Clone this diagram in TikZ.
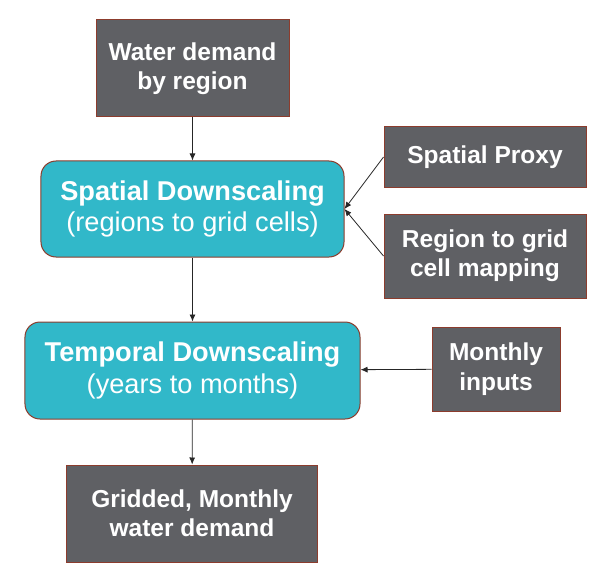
\documentclass[tikz,border=0pt]{standalone}
\usepackage{fontspec}
\setmainfont{Liberation Sans}
\usetikzlibrary{positioning, arrows.meta}
\usepackage{xcolor}

\definecolor{inputgray}{RGB}{95,96,100}
\definecolor{edgebrown}{RGB}{140,60,45}
\definecolor{stepteal}{RGB}{49,184,201}

\begin{document}
\begin{tikzpicture}[
                    x=1bp, y=-1bp,
                    % Uniform line width for the connectors
                    every path/.style={line width=0.8bp},
                    % Grey input/output boxes
                    databox/.style={draw=edgebrown, fill=inputgray, text=white,
                                    line width=1bp, inner sep=0pt, align=center,
                                    font=\fontsize{24.6}{29.5}\selectfont\bfseries},
                    % Teal processing steps
                    stepbox/.style={draw=edgebrown, fill=stepteal, text=white,
                                    line width=1bp, rounded corners=15bp, inner sep=0pt, align=center,
                                    font=\fontsize{27.3}{31.5}\selectfont},
                    flow/.style={draw=black!85, -{Latex[length=7bp,width=6bp]}}
                  ]
                  % --- Fix the page size ---
                  \useasboundingbox (0,0) rectangle (604,577);

                  % --- Boxes ---
                  \node[databox, minimum width=193bp, minimum height=97bp] (demand) at (192.5,68.5) {Water demand\\by region};
                  \node[stepbox, minimum width=303bp, minimum height=96bp] (spatial) at (192.5,209) {\textbf{Spatial Downscaling}\\(regions to grid cells)};
                  \node[databox, minimum width=202bp, minimum height=60bp] (proxy) at (485,157) {Spatial Proxy};
                  \node[databox, minimum width=202bp, minimum height=84bp] (mapping) at (485,256) {Region to grid\\cell mapping};
                  \node[stepbox, minimum width=335bp, minimum height=97bp] (temporal) at (192.5,370.5) {\textbf{Temporal Downscaling}\\(years to months)};
                  \node[databox, minimum width=128bp, minimum height=84bp] (monthly) at (496,369) {Monthly\\inputs};
                  \node[databox, minimum width=250bp, minimum height=97bp] (gridded) at (192,513.5) {Gridded, Monthly\\water demand};

                  % --- Connectors ---
                  \draw[flow] (demand) -- (spatial);
                  \draw[flow] (proxy.west) -- (spatial.east);
                  \draw[flow] (mapping.west) -- (spatial.east);
                  \draw[flow] (spatial) -- (temporal);
                  \draw[flow] (monthly) -- (temporal);
                  \draw[flow] (temporal) -- (gridded);
\end{tikzpicture}
\end{document}
